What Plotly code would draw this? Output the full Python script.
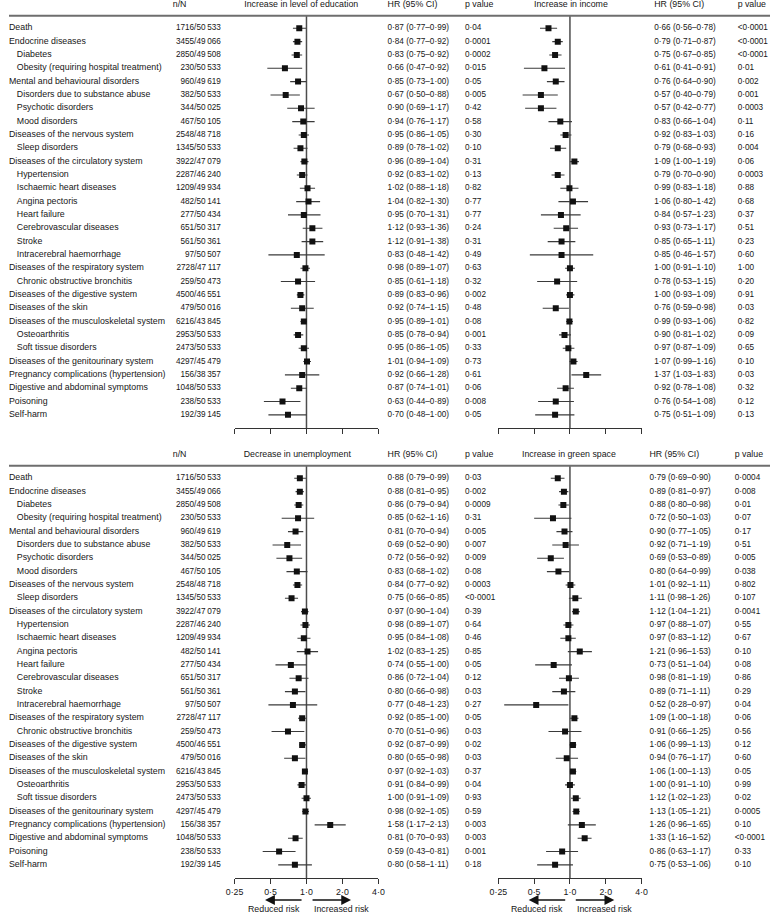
import math
import plotly.graph_objects as go

# Outcomes (rows) and counts
outcomes = [
    "Death", "Endocrine diseases", "Diabetes", "Obesity (requiring hospital treatment)",
    "Mental and behavioural disorders", "Disorders due to substance abuse", "Psychotic disorders",
    "Mood disorders", "Diseases of the nervous system", "Sleep disorders",
    "Diseases of the circulatory system", "Hypertension", "Ischaemic heart diseases",
    "Angina pectoris", "Heart failure", "Cerebrovascular diseases", "Stroke",
    "Intracerebral haemorrhage", "Diseases of the respiratory system",
    "Chronic obstructive bronchitis", "Diseases of the digestive system", "Diseases of the skin",
    "Diseases of the musculoskeletal system", "Osteoarthritis", "Soft tissue disorders",
    "Diseases of the genitourinary system", "Pregnancy complications (hypertension)",
    "Digestive and abdominal symptoms", "Poisoning", "Self-harm",
]
subgroup = [0, 0, 1, 1, 0, 1, 1, 1, 0, 1, 0, 1, 1, 1, 1, 1, 1, 1, 0, 1, 0, 0, 0, 1, 1, 0, 0, 0, 0, 0]
n_events = [1716, 3455, 2850, 230, 960, 382, 344, 467, 2548, 1345, 3922, 2287, 1209, 482, 277,
            651, 561, 97, 2728, 259, 4500, 479, 6216, 2953, 2473, 4297, 156, 1048, 238, 192]
n_total = [50533, 49066, 49508, 50533, 49619, 50533, 50025, 50105, 48718, 50533, 47079, 46240,
           49934, 50141, 50434, 50317, 50361, 50507, 47117, 50473, 46551, 50016, 43845, 50533,
           50533, 45479, 38357, 50533, 50533, 39145]

# Increase in level of education
edu_hr = [0.87, 0.84, 0.83, 0.66, 0.85, 0.67, 0.90, 0.94, 0.95, 0.89, 0.96, 0.92, 1.02, 1.04, 0.95,
          1.12, 1.12, 0.83, 0.98, 0.85, 0.89, 0.92, 0.95, 0.85, 0.95, 1.01, 0.92, 0.87, 0.63, 0.70]
edu_lo = [0.77, 0.77, 0.75, 0.47, 0.73, 0.50, 0.69, 0.76, 0.86, 0.78, 0.89, 0.83, 0.88, 0.82, 0.70,
          0.93, 0.91, 0.48, 0.89, 0.61, 0.83, 0.74, 0.89, 0.78, 0.86, 0.94, 0.66, 0.74, 0.44, 0.48]
edu_hi = [0.99, 0.92, 0.92, 0.92, 1.00, 0.88, 1.17, 1.17, 1.05, 1.02, 1.04, 1.02, 1.18, 1.30, 1.31,
          1.36, 1.38, 1.42, 1.07, 1.18, 0.96, 1.15, 1.01, 0.94, 1.05, 1.09, 1.28, 1.01, 0.89, 1.00]
edu_p = ["0.04", "0.0001", "0.0002", "0.015", "0.05", "0.005", "0.42", "0.58", "0.30", "0.10",
         "0.31", "0.13", "0.82", "0.77", "0.77", "0.24", "0.31", "0.49", "0.63", "0.32", "0.002",
         "0.48", "0.08", "0.001", "0.33", "0.73", "0.61", "0.06", "0.008", "0.05"]

# Increase in income
inc_hr = [0.66, 0.79, 0.75, 0.61, 0.76, 0.57, 0.57, 0.83, 0.92, 0.79, 1.09, 0.79, 0.99, 1.06, 0.84,
          0.93, 0.85, 0.85, 1.00, 0.78, 1.00, 0.76, 0.99, 0.90, 0.97, 1.07, 1.37, 0.92, 0.76, 0.75]
inc_lo = [0.56, 0.71, 0.67, 0.41, 0.64, 0.40, 0.42, 0.66, 0.83, 0.68, 1.00, 0.70, 0.83, 0.80, 0.57,
          0.73, 0.65, 0.46, 0.91, 0.53, 0.93, 0.59, 0.93, 0.81, 0.87, 0.99, 1.03, 0.78, 0.54, 0.51]
inc_hi = [0.78, 0.87, 0.85, 0.91, 0.90, 0.79, 0.77, 1.04, 1.03, 0.93, 1.19, 0.90, 1.18, 1.42, 1.23,
          1.17, 1.11, 1.57, 1.10, 1.15, 1.09, 0.98, 1.06, 1.02, 1.09, 1.16, 1.83, 1.08, 1.08, 1.09]
inc_p = ["<0.0001", "<0.0001", "<0.0001", "0.01", "0.002", "0.001", "0.0003", "0.11", "0.16",
         "0.004", "0.06", "0.0003", "0.88", "0.68", "0.37", "0.51", "0.23", "0.60", "1.00", "0.20",
         "0.91", "0.03", "0.82", "0.09", "0.65", "0.10", "0.03", "0.32", "0.12", "0.13"]

# Decrease in unemployment
une_hr = [0.88, 0.88, 0.86, 0.85, 0.81, 0.69, 0.72, 0.83, 0.84, 0.75, 0.97, 0.98, 0.95, 1.02, 0.74,
          0.86, 0.80, 0.77, 0.92, 0.70, 0.92, 0.80, 0.97, 0.91, 1.00, 0.98, 1.58, 0.81, 0.59, 0.80]
une_lo = [0.79, 0.81, 0.79, 0.62, 0.70, 0.52, 0.56, 0.68, 0.77, 0.66, 0.90, 0.89, 0.84, 0.83, 0.55,
          0.72, 0.66, 0.48, 0.85, 0.51, 0.87, 0.65, 0.92, 0.84, 0.91, 0.92, 1.17, 0.70, 0.43, 0.58]
une_hi = [0.99, 0.95, 0.94, 1.16, 0.94, 0.90, 0.92, 1.02, 0.92, 0.85, 1.04, 1.07, 1.08, 1.25, 1.00,
          1.04, 0.98, 1.23, 1.00, 0.96, 0.99, 0.98, 1.03, 0.99, 1.09, 1.05, 2.13, 0.93, 0.81, 1.11]
une_p = ["0.03", "0.002", "0.0009", "0.31", "0.005", "0.007", "0.009", "0.08", "0.0003", "<0.0001",
         "0.39", "0.64", "0.46", "0.85", "0.05", "0.12", "0.03", "0.27", "0.05", "0.03", "0.02",
         "0.03", "0.37", "0.04", "0.93", "0.59", "0.003", "0.003", "0.001", "0.18"]

# Increase in green space
grn_hr = [0.79, 0.89, 0.88, 0.72, 0.90, 0.92, 0.69, 0.80, 1.01, 1.11, 1.12, 0.97, 0.97, 1.21, 0.73,
          0.98, 0.89, 0.52, 1.09, 0.91, 1.06, 0.94, 1.06, 1.00, 1.12, 1.13, 1.26, 1.33, 0.86, 0.75]
grn_lo = [0.69, 0.81, 0.80, 0.50, 0.77, 0.71, 0.53, 0.64, 0.92, 0.98, 1.04, 0.88, 0.83, 0.96, 0.51,
          0.81, 0.71, 0.28, 1.00, 0.66, 0.99, 0.76, 1.00, 0.91, 1.02, 1.05, 0.96, 1.16, 0.63, 0.53]
grn_hi = [0.90, 0.97, 0.98, 1.03, 1.05, 1.19, 0.89, 0.99, 1.11, 1.26, 1.21, 1.07, 1.12, 1.53, 1.04,
          1.19, 1.11, 0.97, 1.18, 1.25, 1.13, 1.17, 1.13, 1.10, 1.23, 1.21, 1.65, 1.52, 1.17, 1.06]
grn_p = ["0.0004", "0.008", "0.01", "0.07", "0.17", "0.51", "0.005", "0.038", "0.802", "0.107",
         "0.0041", "0.55", "0.67", "0.10", "0.08", "0.86", "0.29", "0.04", "0.06", "0.56", "0.12",
         "0.60", "0.05", "0.99", "0.02", "0.0005", "0.10", "<0.0001", "0.33", "0.10"]

tick_vals = [0.25, 0.5, 1, 2, 4]
tick_text = ["0·25", "0·5", "1·0", "2·0", "4·0"]

W, H = 776, 915
FONT = "Liberation Sans Narrow, Liberation Sans, Arial, sans-serif"
TXT = "#161616"
font = dict(family=FONT, size=8.8, color=TXT)
num_font = dict(family=FONT, size=8.2, color=TXT)


def dot(s):
    return s.replace(".", "·")


def ci_text(h, l, u):
    return dot(f"{h:.2f} ({l:.2f}–{u:.2f})")


def count_text(n):
    s = str(n)
    if len(s) >= 5:
        s = s[:-3] + "\u2009" + s[-3:]
    return s


rows = list(range(len(outcomes)))
nN = [f"{count_text(a)}/{count_text(b)}" for a, b in zip(n_events, n_total)]

# two blocks, each with two exposures side by side
blocks = [
    dict(y="y", xa=("x", "x2"),
         titles=("Increase in level of education", "Increase in income"),
         data=((edu_hr, edu_lo, edu_hi, edu_p), (inc_hr, inc_lo, inc_hi, inc_p)),
         title_x=(298, 573), hr2_x=658, p2_x=743),
    dict(y="y2", xa=("x3", "x4"),
         titles=("Decrease in unemployment", "Increase in green space"),
         data=((une_hr, une_lo, une_hi, une_p), (grn_hr, grn_lo, grn_hi, grn_p)),
         title_x=(294, 571), hr2_x=653, p2_x=740),
]

fig = go.Figure()

for b in blocks:
    ya = b["y"]
    # outcome labels
    fig.add_trace(go.Scatter(x=[8 if s else 0 for s in subgroup], y=rows, text=outcomes,
                             mode="text", textposition="middle right", textfont=font,
                             xaxis="x5", yaxis=ya, hoverinfo="skip"))
    # n/N
    fig.add_trace(go.Scatter(x=[216] * len(rows), y=rows, text=nN, mode="text",
                             textposition="middle left", textfont=num_font,
                             xaxis="x5", yaxis=ya, hoverinfo="skip"))
    # headers
    hx = [167, b["title_x"][0], 386, 465, b["title_x"][1], b["hr2_x"], b["p2_x"]]
    htxt = ["n/N", b["titles"][0], "HR (95% CI)", "p value", b["titles"][1], "HR (95% CI)", "p value"]
    hpos = ["middle right", "middle center", "middle right", "middle right", "middle center",
            "middle right", "middle right"]
    fig.add_trace(go.Scatter(x=hx, y=[-1.75] * len(hx), text=htxt, mode="text",
                             textposition=hpos, textfont=font,
                             xaxis="x5", yaxis=ya, hoverinfo="skip"))

    col_x = [(386, 465), (b["hr2_x"], b["p2_x"])]
    for k in range(2):
        hr, lo, hi, pv = b["data"][k]
        xa = b["xa"][k]
        # HR text and p values
        fig.add_trace(go.Scatter(x=[col_x[k][0]] * len(rows), y=rows,
                                 text=[ci_text(h, l, u) for h, l, u in zip(hr, lo, hi)],
                                 mode="text", textposition="middle right", textfont=num_font,
                                 xaxis="x5", yaxis=ya, hoverinfo="skip"))
        fig.add_trace(go.Scatter(x=[col_x[k][1]] * len(rows), y=rows, text=[dot(p) for p in pv],
                                 mode="text", textposition="middle right", textfont=num_font,
                                 xaxis="x5", yaxis=ya, hoverinfo="skip"))
        # reference line at HR = 1
        fig.add_trace(go.Scatter(x=[1, 1], y=[-0.94, 30], mode="lines",
                                 line=dict(color="#4d4d4d", width=1.5),
                                 xaxis=xa, yaxis=ya, hoverinfo="skip"))
        # confidence intervals
        cx, cy = [], []
        for i in rows:
            cx += [lo[i], hi[i], None]
            cy += [i, i, None]
        fig.add_trace(go.Scatter(x=cx, y=cy, mode="lines", line=dict(color="#3a3a3a", width=1.1),
                                 xaxis=xa, yaxis=ya, hoverinfo="skip"))
        fig.add_trace(go.Scatter(x=hr, y=rows, mode="markers",
                                 marker=dict(symbol="square", size=6, color="#111111"),
                                 xaxis=xa, yaxis=ya, hoverinfo="skip"))

    # header rule
    fig.add_shape(type="line", xref="paper", yref=ya, x0=0, x1=1, y0=-0.94, y1=-0.94,
                  line=dict(color="#6e6e6e", width=2))


def forest_axis(dom, pos, labels):
    return dict(type="log", range=[math.log10(0.25), math.log10(4)], domain=dom,
                anchor="free", position=pos, showline=True, linecolor="#333", linewidth=1,
                ticks="outside", ticklen=5, tickcolor="#333", tickwidth=1,
                tickvals=tick_vals, ticktext=tick_text, showticklabels=labels,
                tickfont=font, showgrid=False, zeroline=False, fixedrange=True)


dom1 = [230 / W, 376.7 / W]
dom2 = [499 / W, 645 / W]
top_pos = 1 - 428 / H
bot_pos = 1 - 878 / H

fig.update_layout(
    width=W, height=H,
    margin=dict(l=0, r=0, t=0, b=0),
    paper_bgcolor="white", plot_bgcolor="rgba(0,0,0,0)",
    showlegend=False,
    font=font,
    xaxis=forest_axis(dom1, top_pos, False),
    xaxis2=forest_axis(dom2, top_pos, False),
    xaxis3=forest_axis(dom1, bot_pos, True),
    xaxis4=forest_axis(dom2, bot_pos, True),
    xaxis5=dict(domain=[0, 1], range=[0, W], visible=False, anchor="y", fixedrange=True),
    yaxis=dict(domain=[0, 1], range=[(H - 28.3) / 13.33, -28.3 / 13.33], visible=False,
               anchor="x5", fixedrange=True),
    yaxis2=dict(domain=[0, 1], range=[(H - 478.3) / 13.33, -478.3 / 13.33], visible=False,
                anchor="x5", fixedrange=True),
)

# risk direction arrows under the bottom panels
for xa in ["x3", "x4"]:
    fig.add_annotation(xref=xa, yref="paper", x=math.log10(0.45), y=1 - 900 / H,
                       ax=38, ay=0, text="", showarrow=True, arrowhead=2, arrowsize=1.4,
                       arrowwidth=1.4, arrowcolor="#111")
    fig.add_annotation(xref=xa, yref="paper", x=math.log10(2.36), y=1 - 900 / H,
                       ax=-40, ay=0, text="", showarrow=True, arrowhead=2, arrowsize=1.4,
                       arrowwidth=1.4, arrowcolor="#111")
    fig.add_annotation(xref=xa, yref="paper", x=math.log10(0.915), y=1 - 909 / H,
                       text="Reduced risk", showarrow=False, xanchor="right", yanchor="middle",
                       font=font)
    fig.add_annotation(xref=xa, yref="paper", x=math.log10(1.105), y=1 - 909 / H,
                       text="Increased risk", showarrow=False, xanchor="left", yanchor="middle",
                       font=font)

# remove the default page margin so the figure sits at the top-left corner
fig.write_html("out.html", config={"displayModeBar": False},
               post_script="document.body.style.margin='0';")
